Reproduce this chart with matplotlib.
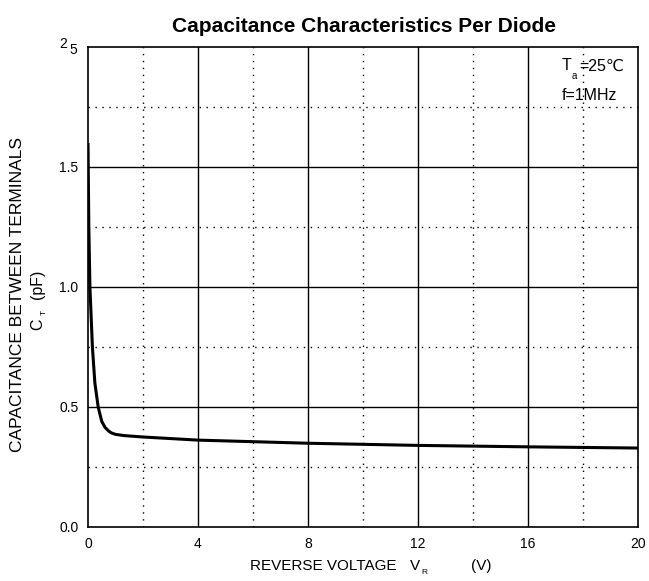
import matplotlib
matplotlib.use("Agg")
import matplotlib.pyplot as plt
import numpy as np

plt.rcParams['font.family'] = ['Liberation Sans', 'DejaVu Sans']

# Data
voltage = [0, 0.03, 0.07, 0.16, 0.25, 0.37, 0.5, 0.62, 0.75, 0.85, 1.0, 1.3, 2, 4, 8, 12, 16, 20]
capacitance = [1.6, 1.25, 1.0, 0.75, 0.6, 0.5, 0.44, 0.415, 0.40, 0.392, 0.386, 0.381, 0.375, 0.362, 0.349, 0.340, 0.334, 0.329]

x_ticks = [0, 4, 8, 12, 16, 20]
x_tick_labels = ["0", "4", "8", "12", "16", "20"]
y_ticks = [0.0, 0.5, 1.0, 1.5]
y_tick_labels = ["0.0", "0.5", "1.0", "1.5"]

W, H = 649, 581
fig = plt.figure(figsize=(W / 100, H / 100), dpi=100)
ax = fig.add_axes([88 / W, 1 - 527 / H, 550 / W, 480 / H])

ax.plot(voltage, capacitance, color='black', lw=2.2, solid_joinstyle='round',
        solid_capstyle='butt', zorder=5)

ax.set_xlim(0, 20)
ax.set_ylim(0, 2.0)

for x in [4, 8, 12, 16]:
    ax.axvline(x, color='black', lw=1.0, zorder=2)
for x in [2, 6, 10, 14, 18]:
    ax.axvline(x, color='black', lw=1.0, ls=(0, (1, 4)), zorder=2)
for y in [0.5, 1.0, 1.5]:
    ax.axhline(y, color='black', lw=1.0, zorder=2)
for y in [0.25, 0.75, 1.25, 1.75]:
    ax.axhline(y, color='black', lw=1.0, ls=(0, (1, 4)), zorder=2)

for s in ax.spines.values():
    s.set_linewidth(1.2)

ax.set_xticks(x_ticks)
ax.set_xticklabels(x_tick_labels, fontsize=10)
ax.set_yticks(y_ticks)
ax.set_yticklabels(y_tick_labels, fontsize=10)
ax.tick_params(length=0, pad=7)

# garbled top tick label "2 5"
fig.text(63 / W, 1 - 44 / H, "2", fontsize=10, ha='center', va='center')
fig.text(73 / W, 1 - 49.5 / H, "5", fontsize=10, ha='center', va='center')

fig.text(364 / W, 1 - 27 / H, "Capacitance Characteristics Per Diode",
         fontsize=15, fontweight='bold', ha='center', va='center')

# x label
fig.text(250 / W, 1 - 566 / H, "REVERSE VOLTAGE", fontsize=11, ha='left', va='center')
fig.text(410 / W, 1 - 566 / H, "V", fontsize=11, ha='left', va='center')
fig.text(421 / W, 1 - 572 / H, "R", fontsize=6, ha='left', va='center')
fig.text(471 / W, 1 - 566 / H, "(V)", fontsize=11, ha='left', va='center')

# y labels
fig.text(18 / W, 1 - 295 / H, "CAPACITANCE BETWEEN TERMINALS", fontsize=12.5,
         rotation=90, ha='center', va='center')
fig.text(38 / W, 1 - 324 / H, "C", fontsize=11.5, rotation=90, ha='center', va='center')
fig.text(44 / W, 1 - 312 / H, "T", fontsize=6, rotation=90, ha='center', va='center')
fig.text(38 / W, 1 - 284 / H, "(pF)", fontsize=11.5, rotation=90, ha='center', va='center')

# annotation
fig.text(562 / W, 1 - 66 / H, "T", fontsize=11.5, ha='left', va='center')
fig.text(572 / W, 1 - 76 / H, "a", fontsize=7, ha='left', va='center')
fig.text(579 / W, 1 - 66 / H, "=25℃", fontsize=11.5, ha='left', va='center')
fig.text(562 / W, 1 - 95 / H, "f=1MHz", fontsize=11.5, ha='left', va='center')

fig.savefig("out.png", dpi=100, facecolor='white')
